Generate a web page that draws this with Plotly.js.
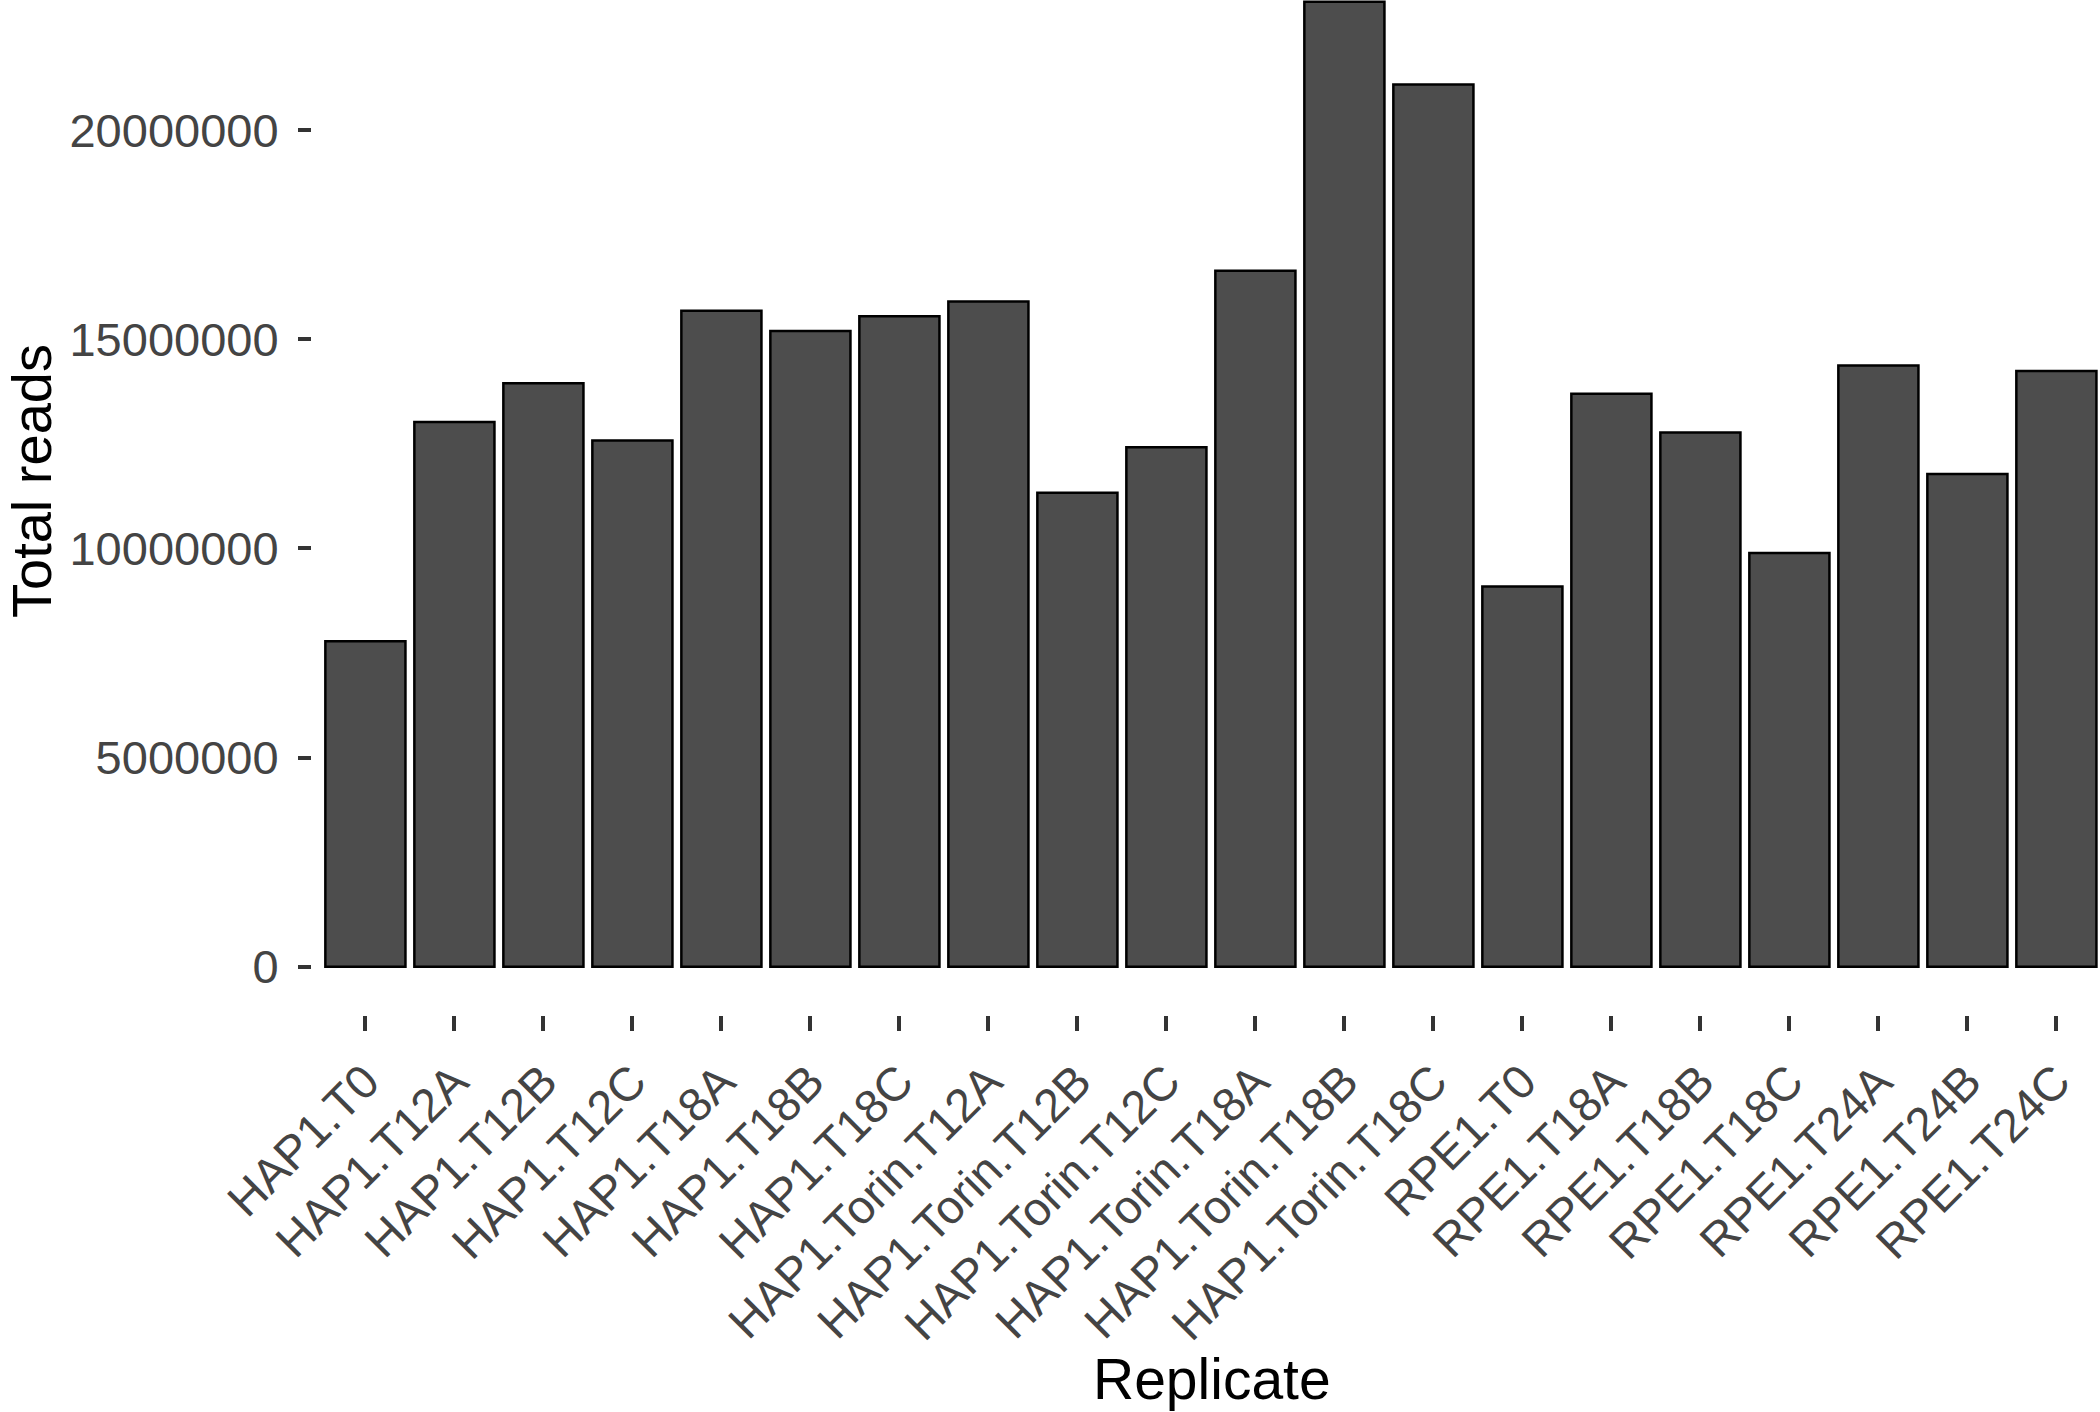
<!DOCTYPE html>
<html>
<head>
<meta charset="utf-8">
<script src="https://cdn.plot.ly/plotly-3.0.1.min.js"></script>
<style>
  html, body { margin: 0; padding: 0; background: #fff; }
  #plot { width: 2100px; height: 1412px; }
</style>
</head>
<body>
<div id="plot"></div>
<script>
// replicate names and total reads
const replicates = [
  'HAP1.T0', 'HAP1.T12A', 'HAP1.T12B', 'HAP1.T12C', 'HAP1.T18A', 'HAP1.T18B', 'HAP1.T18C',
  'HAP1.Torin.T12A', 'HAP1.Torin.T12B', 'HAP1.Torin.T12C',
  'HAP1.Torin.T18A', 'HAP1.Torin.T18B', 'HAP1.Torin.T18C',
  'RPE1.T0', 'RPE1.T18A', 'RPE1.T18B', 'RPE1.T18C', 'RPE1.T24A', 'RPE1.T24B', 'RPE1.T24C'
];
const totalReads = [
  7780000, 13020000, 13950000, 12580000, 15680000, 15200000, 15550000,
  15900000, 11330000, 12420000,
  16640000, 23070000, 21090000,
  9090000, 13700000, 12770000, 9890000, 14370000, 11780000, 14240000
];
const yTicks = [0, 5000000, 10000000, 15000000, 20000000];

const font = 'Liberation Sans, Arial, sans-serif';

// plot area in pixels (ggplot panel, cropped at top and right)
const L = 312, T = 0, W = 2100 - 312, H = 1015;
const px2x = px => (px - L) / W;
const py2y = py => (T + H - py) / H;

const data = [{
  type: 'bar',
  x: replicates,
  y: totalReads,
  width: 0.9,
  marker: { color: '#4d4d4d', line: { color: '#000000', width: 2.5 } },
  hoverinfo: 'x+y'
}];

const layout = {
  width: 2100,
  height: 1412,
  margin: { l: L, r: 0, t: T, b: 1412 - H },
  paper_bgcolor: '#ffffff',
  plot_bgcolor: '#ffffff',
  showlegend: false,
  font: { family: font, color: '#444444' },
  xaxis: {
    type: 'category',
    range: [-0.6, 19.49],
    showgrid: false,
    zeroline: false,
    showline: false,
    ticks: 'outside',
    ticklen: 15,
    tickwidth: 4,
    tickcolor: '#333333',
    tickangle: -45,
    ticklabelstandoff: 4,
    tickfont: { family: font, size: 47, color: '#444444' },
    automargin: false
  },
  yaxis: {
    range: [-1154000, 23110000],
    tickvals: yTicks,
    tickformat: 'd',
    showgrid: false,
    zeroline: false,
    showline: false,
    ticks: 'outside',
    ticklen: 13,
    tickwidth: 4,
    tickcolor: '#333333',
    ticklabelstandoff: 10,
    tickfont: { family: font, size: 47, color: '#444444' },
    automargin: false
  },
  annotations: [
    {
      text: 'Replicate', xref: 'paper', yref: 'paper',
      x: px2x(1212), y: py2y(1379), xanchor: 'center', yanchor: 'middle',
      showarrow: false, font: { family: font, size: 57, color: '#000000' }
    },
    {
      text: 'Total reads', xref: 'paper', yref: 'paper', textangle: -90,
      x: px2x(31), y: py2y(481), xanchor: 'center', yanchor: 'middle',
      showarrow: false, font: { family: font, size: 56, color: '#000000' }
    }
  ]
};

Plotly.newPlot('plot', data, layout, { displayModeBar: false, staticPlot: true });
</script>
</body>
</html>
